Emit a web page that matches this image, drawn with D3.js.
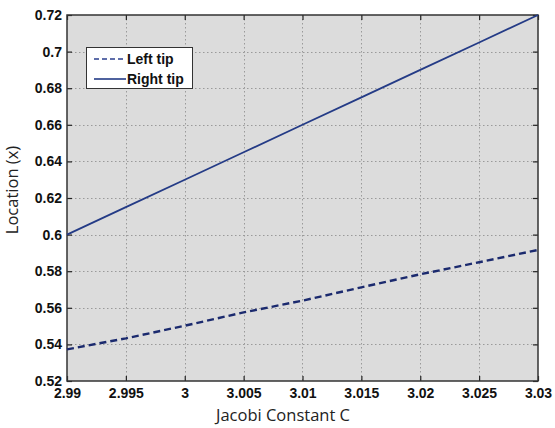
<!DOCTYPE html>
<html><head><meta charset="utf-8">
<script src="https://cdn.jsdelivr.net/npm/d3@7"></script>
<style>body{margin:0;background:#fff}svg{display:block}</style>
</head><body>
<svg id="c" width="555" height="428"></svg>
<script>
const jacobiC = [2.99, 2.995, 3.0, 3.005, 3.01, 3.015, 3.02, 3.025, 3.03];
const leftTip = [0.5373, 0.5433, 0.5502, 0.5575, 0.5639, 0.5712, 0.5783, 0.5849, 0.5916];
const rightTip = [0.600, 0.615, 0.630, 0.645, 0.660, 0.675, 0.690, 0.705, 0.720];
const xTicks = [2.99, 2.995, 3.0, 3.005, 3.01, 3.015, 3.02, 3.025, 3.03];
const yTicks = [0.52, 0.54, 0.56, 0.58, 0.6, 0.62, 0.64, 0.66, 0.68, 0.7, 0.72];
const seriesNames = ["Left tip", "Right tip"];

const L = 67, R = 538, T = 15, B = 381;
const svg = d3.select("#c");
const x = d3.scaleLinear().domain([2.99, 3.03]).range([L, R]);
const y = d3.scaleLinear().domain([0.52, 0.72]).range([B, T]);
const fmt = d => String(+d.toFixed(3));

svg.append("rect").attr("x", L).attr("y", T).attr("width", R - L).attr("height", B - T).attr("fill", "#dcdcdc");

// grid
const grid = svg.append("g").attr("stroke", "#9a9a9a").attr("stroke-width", 1).attr("stroke-dasharray", "1.5,2.5");
grid.selectAll(".gx").data(xTicks.slice(1, -1)).join("line")
  .attr("x1", d => Math.round(x(d)) + 0.5).attr("x2", d => Math.round(x(d)) + 0.5).attr("y1", T).attr("y2", B);
grid.selectAll(".gy").data(yTicks.slice(1, -1)).join("line")
  .attr("y1", d => Math.round(y(d)) + 0.5).attr("y2", d => Math.round(y(d)) + 0.5).attr("x1", L).attr("x2", R);

// axes
const tickFont = "bold 14px 'Liberation Sans', Arial, sans-serif";
const ax = svg.append("g").attr("transform", `translate(0,${B})`)
  .call(d3.axisBottom(x).tickValues(xTicks).tickFormat(fmt).tickSizeInner(-5).tickSizeOuter(0).tickPadding(7));
const ay = svg.append("g").attr("transform", `translate(${L},0)`)
  .call(d3.axisLeft(y).tickValues(yTicks).tickFormat(fmt).tickSizeInner(-5).tickSizeOuter(0).tickPadding(5));
const axTop = svg.append("g").attr("transform", `translate(0,${T})`)
  .call(d3.axisTop(x).tickValues(xTicks).tickFormat("").tickSizeInner(-5).tickSizeOuter(0));
const ayRight = svg.append("g").attr("transform", `translate(${R},0)`)
  .call(d3.axisRight(y).tickValues(yTicks).tickFormat("").tickSizeInner(-5).tickSizeOuter(0));
[ax, ay, axTop, ayRight].forEach(g => {
  g.select(".domain").remove();
  g.selectAll(".tick line").attr("stroke", "#222").attr("stroke-width", 1.2);
  g.selectAll("text").style("font", tickFont).attr("fill", "#111");
});
svg.append("rect").attr("x", L).attr("y", T).attr("width", R - L).attr("height", B - T)
  .attr("fill", "none").attr("stroke", "#333").attr("stroke-width", 1.5);

// lines
const line = d3.line().x((d, i) => x(jacobiC[i])).y(d => y(d));
svg.append("path").datum(leftTip).attr("d", line).attr("fill", "none")
  .attr("stroke", "#1b2a6e").attr("stroke-width", 2.4).attr("stroke-dasharray", "7,4");
svg.append("path").datum(rightTip).attr("d", line).attr("fill", "none")
  .attr("stroke", "#243b86").attr("stroke-width", 1.8);

// legend
const lg = svg.append("g");
lg.append("rect").attr("x", 86.5).attr("y", 47.5).attr("width", 106).attr("height", 41)
  .attr("fill", "#fff").attr("stroke", "#333").attr("stroke-width", 1);
const styles = [{dash: "5,3", w: 1.6, c: "#2b3f8f"}, {dash: null, w: 1.6, c: "#243b86"}];
seriesNames.forEach((n, i) => {
  const yy = 59 + i * 20;
  lg.append("line").attr("x1", 94).attr("x2", 126).attr("y1", yy).attr("y2", yy)
    .attr("stroke", styles[i].c).attr("stroke-width", styles[i].w).attr("stroke-dasharray", styles[i].dash);
  lg.append("text").attr("x", 127).attr("y", yy + 5).text(n)
    .style("font", tickFont).attr("fill", "#111");
});

// axis labels
svg.append("text").attr("x", 283).attr("y", 421).attr("text-anchor", "middle")
  .style("font", "16.5px 'Open Sans', sans-serif").attr("fill", "#222").text("Jacobi Constant C");
svg.append("text").attr("transform", "translate(18,190) rotate(-90)").attr("text-anchor", "middle")
  .style("font", "16.5px 'Open Sans', sans-serif").attr("fill", "#222").text("Location (x)");
</script>
</body></html>
